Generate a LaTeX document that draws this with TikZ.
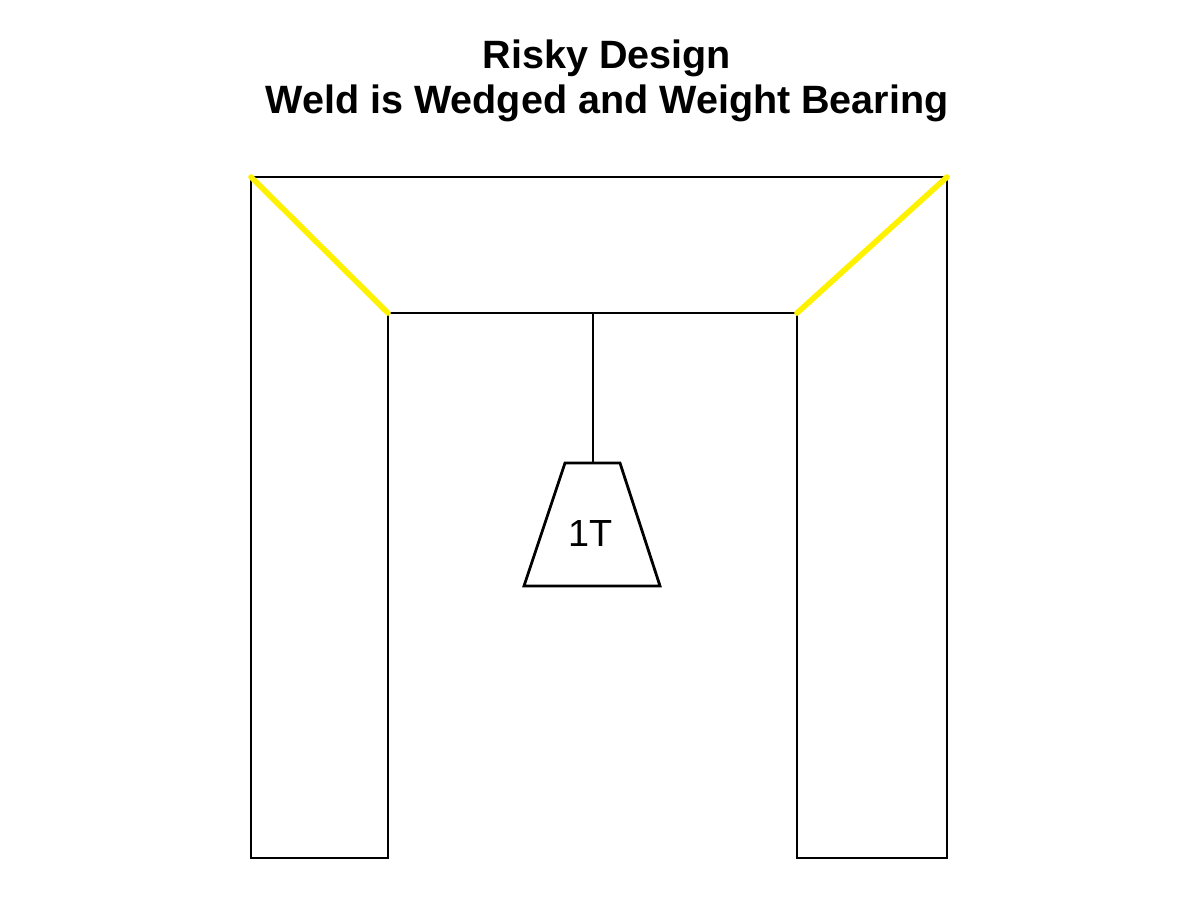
\documentclass[tikz,border=0pt]{standalone}
\usepackage{fontspec}
\setmainfont{Liberation Sans}
\tikzset{
    frameline/.style={line width=1.6pt, black},
    weldline/.style={line width=3.2pt, yellow, line cap=round},
}
\begin{document}
\begin{tikzpicture}[x=0.02cm, y=-0.02cm]
\useasboundingbox (0,0) rectangle (1200,900);
% title
\node[font=\bfseries\fontsize{22.5}{25.5}\selectfont, align=center] (title) at (607,81)
    {Risky Design\\Weld is Wedged and Weight Bearing};
% frame corners
\coordinate (tl) at (251,177);
\coordinate (tr) at (947,177);
\coordinate (il) at (388,313);
\coordinate (ir) at (797,313);
\draw[frameline] (tl) -- (251,858) -- (388,858) -- (il) -- (ir) -- (797,858)
    -- (947,858) -- (tr) -- cycle;
% welds
\draw[weldline] (tl) -- (il);
\draw[weldline] (tr) -- (ir);
% hanging weight
\coordinate (hook) at (593,313);
\coordinate (wtop) at (593,463);
\draw[frameline] (hook) -- (wtop);
\draw[frameline] (565,463) -- (620,463) -- (660,586) -- (524,586) -- cycle;
\node[font=\fontsize{21.5}{25}\selectfont] (load) at (591,533) {1T};
\end{tikzpicture}
\end{document}
